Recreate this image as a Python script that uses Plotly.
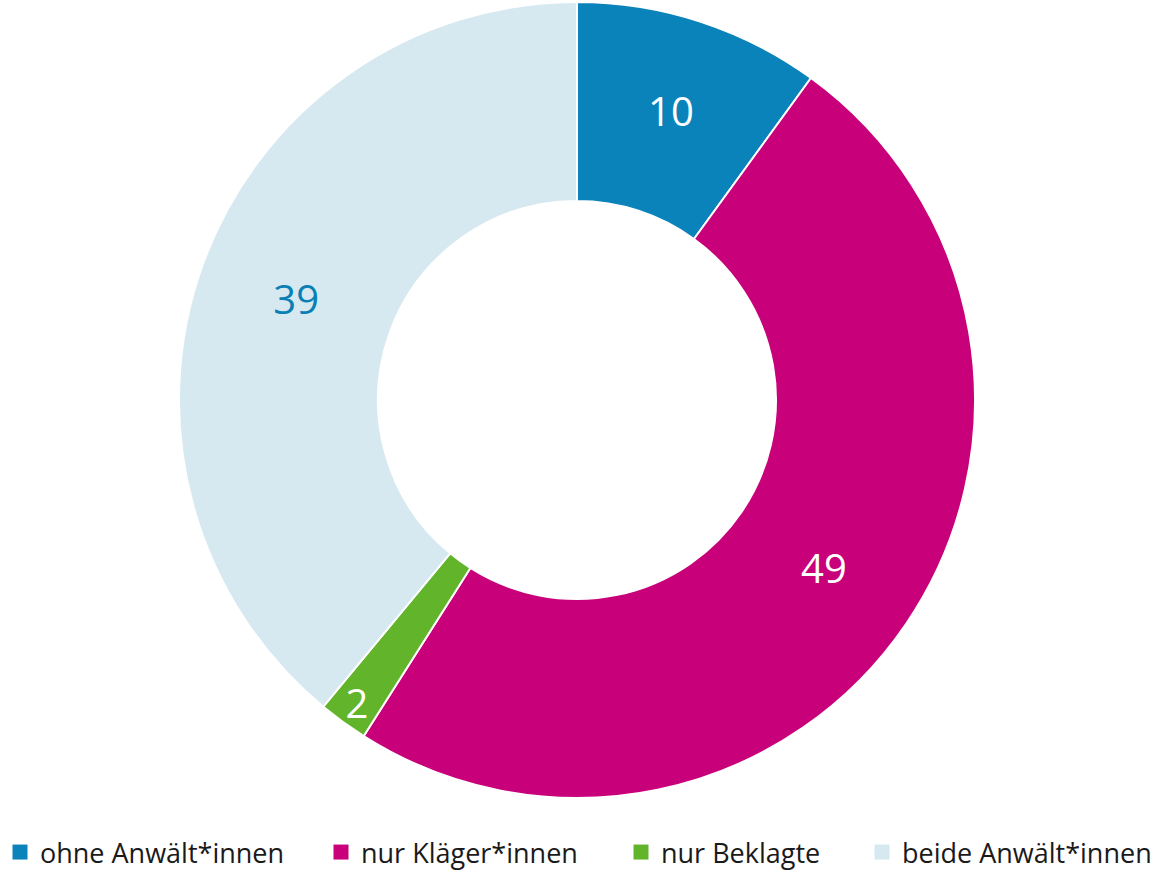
import plotly.graph_objects as go

categories = ["ohne Anwält*innen", "nur Kläger*innen", "nur Beklagte", "beide Anwält*innen"]
values = [10, 49, 2, 39]
colors = ["#0a83bb", "#c8007a", "#62b42a", "#d6e8f0"]
text_colors = ["#ffffff", "#ffffff", "#ffffff", "#0a7fb5"]
legend_widths = [276, 255, 196, 250]

W, H = 1162, 872
cx, cy, r = 577, 400, 398

fig = go.Figure()
fig.add_trace(go.Pie(
    labels=categories,
    values=values,
    marker=dict(colors=colors, line=dict(color="#ffffff", width=2)),
    hole=0.5,
    sort=False,
    direction="clockwise",
    rotation=0,
    texttemplate="%{value}",
    textposition="inside",
    insidetextorientation="horizontal",
    textfont=dict(family="Open Sans", size=40, color=text_colors),
    domain=dict(x=[(cx - r) / W, (cx + r) / W], y=[(H - cy - r) / H, (H - cy + r) / H]),
    showlegend=False,
))

for name, col, lw in zip(categories, colors, legend_widths):
    fig.add_trace(go.Scatter(
        x=[None], y=[None], mode="markers", name=name,
        marker=dict(symbol="square", size=15, color=col),
        legendwidth=lw, showlegend=True, hoverinfo="skip",
    ))

fig.update_layout(
    width=W, height=H,
    margin=dict(l=0, r=0, t=0, b=0, autoexpand=False),
    paper_bgcolor="white",
    plot_bgcolor="white",
    uniformtext=dict(minsize=40, mode="show"),
    xaxis=dict(visible=False),
    yaxis=dict(visible=False),
    legend=dict(
        orientation="h",
        x=0, xanchor="left",
        y=-5 / H, yanchor="bottom",
        font=dict(family="Open Sans", size=27, color="#1a1a1a"),
        itemwidth=30,
        traceorder="normal",
    ),
)

fig.write_html("out.html", config={"displayModeBar": False},
               post_script="document.body.style.margin='0';")
